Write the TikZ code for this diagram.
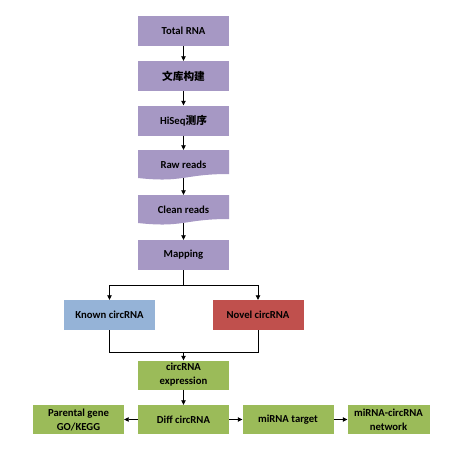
\documentclass[tikz,border=0pt]{standalone}
\usepackage{fontspec}
\setmainfont{Carlito}
\newfontfamily\cjk{Noto Sans CJK SC}
\usetikzlibrary{arrows.meta}

\definecolor{boxpurple}{RGB}{166,152,196}
\definecolor{boxblue}{RGB}{149,179,215}
\definecolor{boxred}{RGB}{192,80,77}
\definecolor{boxgreen}{RGB}{155,187,89}

\begin{document}
\begin{tikzpicture}[x=1pt, y=-1pt,
  stepbox/.style = {rectangle, fill=boxpurple, minimum width=91pt, minimum height=30pt, inner sep=1pt,
    align=center, font=\fontsize{10.7}{14}\selectfont\bfseries},
  wavy/.style = {stepbox, fill=none, path picture={
    \fill[boxpurple] (path picture bounding box.north west) -- (path picture bounding box.north east)
      -- ([yshift=6pt]path picture bounding box.south east)
      .. controls ([yshift=6pt]path picture bounding box.south) and ([yshift=-3pt]path picture bounding box.south)
      .. ([yshift=2pt]path picture bounding box.south west) -- cycle;}},
  known/.style = {stepbox, fill=boxblue},
  novel/.style = {stepbox, fill=boxred},
  result/.style = {stepbox, fill=boxgreen, minimum height=29pt},
  link/.style = {line width=0.8pt},
  arr/.style = {link, -{Triangle[length=4.5pt,width=4.5pt]}}]

\useasboundingbox (0,0) rectangle (461,450);

\node[stepbox] (total) at (183.5,31) {Total RNA};
\node[stepbox] (lib) at (183.5,76) {\cjk 文库构建};
\node[stepbox] (hiseq) at (183.5,120.5) {HiSeq{\cjk 测序}};
\node[wavy] (raw) at (183.5,165) {Raw reads};
\node[wavy] (clean) at (183.5,210) {Clean reads};
\node[stepbox] (map) at (183.5,255) {Mapping};

\node[known] (kn) at (109.5,315) {Known circRNA};
\node[novel] (nv) at (258,315) {Novel circRNA};

\node[result] (expr) at (183.5,375) {circRNA\\expression};
\node[result] (diff) at (183.5,419.5) {Diff circRNA};
\node[result] (parent) at (78.5,419.5) {Parental gene\\GO/KEGG};
\node[result] (target) at (288,419.5) {miRNA target};
\node[result, minimum width=82pt] (net) at (388.5,419.5) {miRNA-circRNA\\network};

\coordinate (split) at (183.5,285);
\coordinate (merge) at (183.5,352);

\draw[arr] (total) -- (lib);
\draw[arr] (lib) -- (hiseq);
\draw[arr] (hiseq) -- (raw);
\draw[arr] ([yshift=2pt]raw.south) -- (clean);
\draw[arr] ([yshift=2pt]clean.south) -- (map);

\draw[link] (map) -- (split);
\draw[arr] (split) -| (kn);
\draw[arr] (split) -| (nv);

\draw[link] (kn) |- (merge);
\draw[link] (nv) |- (merge);
\draw[arr] (merge) -- (expr);

\draw[arr] (expr) -- (diff);
\draw[arr] (diff) -- (parent);
\draw[arr] (diff) -- (target);
\draw[arr] (target) -- (net);

\end{tikzpicture}
\end{document}
